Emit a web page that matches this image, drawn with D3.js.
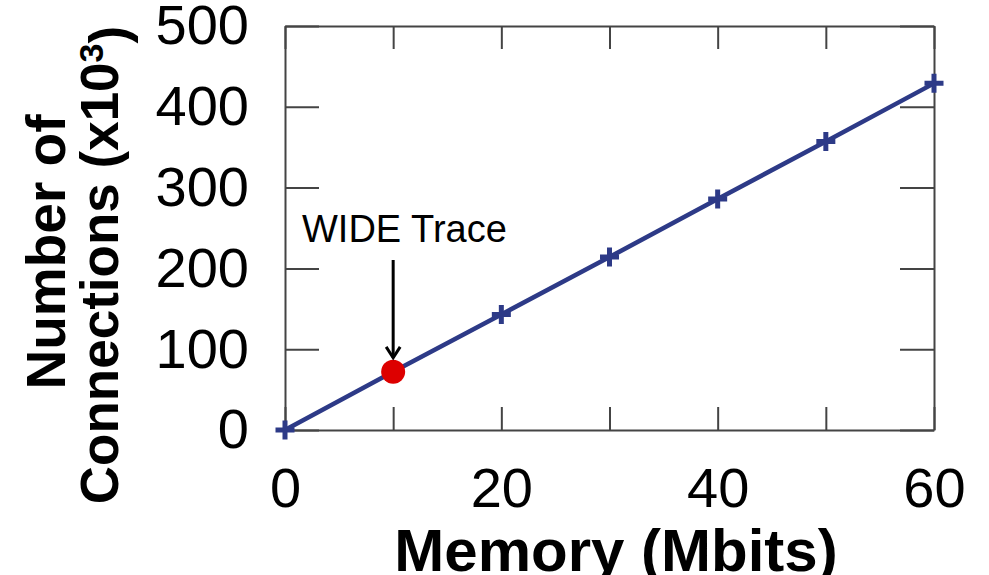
<!DOCTYPE html>
<html>
<head>
<meta charset="utf-8">
<script src="https://cdn.jsdelivr.net/npm/d3@7"></script>
<style>
  html, body { margin: 0; padding: 0; background: #fff; }
  svg { display: block; font-family: "Liberation Sans", Arial, Helvetica, sans-serif; }
</style>
</head>
<body>
<svg id="chart" width="989" height="575"></svg>
<script>
// Memory budget (Mbits) vs. number of connections that fit (thousands)
const memoryMbits = [0, 10, 20, 30, 40, 50, 60];
const connectionsK = [0, 72, 143, 214, 286, 357, 429];

// Highlighted operating point for the WIDE trace
const traceLabel = "WIDE Trace";
const traceMemory = 10;
const traceConnections = 72;

// Axis ticks and labels
const xTicks = [0, 10, 20, 30, 40, 50, 60];
const xLabels = [0, 20, 40, 60];
const yTicks = [0, 100, 200, 300, 400, 500];

const lineColor = "#2d3a87";
const frameColor = "#444";

const svg = d3.select("#chart");
const x = d3.scaleLinear().domain([0, 60]).range([285, 934]);
const y = d3.scaleLinear().domain([0, 500]).range([430, 26]);

function styleAxis(g) {
  g.select(".domain").attr("stroke", frameColor).attr("stroke-width", 2);
  g.selectAll(".tick line").attr("stroke", frameColor).attr("stroke-width", 2);
  g.selectAll(".tick text")
    .attr("fill", "#000")
    .style("font-size", "56px")
    .style("font-family", "'Liberation Sans', Arial, sans-serif");
}

// Bottom axis with labels
svg.append("g")
  .attr("transform", `translate(0,${y(0)})`)
  .call(d3.axisBottom(x).tickValues(xTicks).tickSizeInner(-23).tickSizeOuter(0)
    .tickPadding(37).tickFormat(d => xLabels.includes(d) ? d : ""))
  .call(styleAxis);

// Top axis (ticks only)
svg.append("g")
  .attr("transform", `translate(0,${y(500)})`)
  .call(d3.axisTop(x).tickValues(xTicks).tickSizeInner(-23).tickSizeOuter(0).tickFormat(""))
  .call(styleAxis);

// Left axis with labels
svg.append("g")
  .attr("transform", `translate(${x(0)},0)`)
  .call(d3.axisLeft(y).tickValues(yTicks).tickSizeInner(-34).tickSizeOuter(0).tickPadding(36))
  .call(styleAxis);

// Right axis (ticks only)
svg.append("g")
  .attr("transform", `translate(${x(60)},0)`)
  .call(d3.axisRight(y).tickValues(yTicks).tickSizeInner(-34).tickSizeOuter(0).tickFormat(""))
  .call(styleAxis);

// Series line
const pts = memoryMbits.map((m, i) => [m, connectionsK[i]]);
svg.append("path")
  .datum(pts)
  .attr("fill", "none")
  .attr("stroke", lineColor)
  .attr("stroke-width", 4.5)
  .attr("d", d3.line().x(d => x(d[0])).y(d => y(d[1])));

// Plus markers
svg.append("g").selectAll("path.plus")
  .data(pts)
  .join("path")
  .attr("class", "plus")
  .attr("transform", d => `translate(${x(d[0])},${y(d[1])})`)
  .attr("d", "M-9.5,0H9.5M0,-9.5V9.5")
  .attr("stroke", lineColor)
  .attr("stroke-width", 5)
  .attr("fill", "none");

// WIDE trace point
const dotR = 12;
svg.append("circle")
  .attr("cx", x(traceMemory))
  .attr("cy", y(traceConnections))
  .attr("r", dotR)
  .attr("fill", "#dd0000");

// Annotation text and arrow
const labelBaseline = 242;
svg.append("text")
  .attr("x", 302)
  .attr("y", labelBaseline)
  .style("font-size", "38px")
  .attr("fill", "#000")
  .text(traceLabel);

const ax = x(traceMemory);
const tipY = y(traceConnections) - dotR - 2;
svg.append("line")
  .attr("x1", ax).attr("x2", ax)
  .attr("y1", labelBaseline + 18).attr("y2", tipY)
  .attr("stroke", "#000").attr("stroke-width", 3);
svg.append("path")
  .attr("d", `M${ax - 7},${tipY - 11}L${ax},${tipY}L${ax + 7},${tipY - 11}`)
  .attr("fill", "none")
  .attr("stroke", "#000")
  .attr("stroke-width", 3);

// Axis titles
svg.append("text")
  .attr("x", 616)
  .attr("y", 571)
  .attr("text-anchor", "middle")
  .style("font-size", "60px")
  .style("font-weight", "bold")
  .text("Memory (Mbits)");

const yTitle = svg.append("g").attr("transform", "translate(0,258) rotate(-90)");
yTitle.append("text")
  .attr("x", 6).attr("y", 65)
  .attr("text-anchor", "middle")
  .style("font-size", "55px")
  .style("font-weight", "bold")
  .text("Number of");
const t2 = yTitle.append("text")
  .attr("x", -7).attr("y", 118)
  .attr("text-anchor", "middle")
  .style("font-size", "53px")
  .style("font-weight", "bold");
t2.append("tspan").text("Connections (x10");
t2.append("tspan").attr("dy", "-0.45em").style("font-size", "34px").text("3");
t2.append("tspan").attr("dy", "0.45em").text(")");
</script>
</body>
</html>
